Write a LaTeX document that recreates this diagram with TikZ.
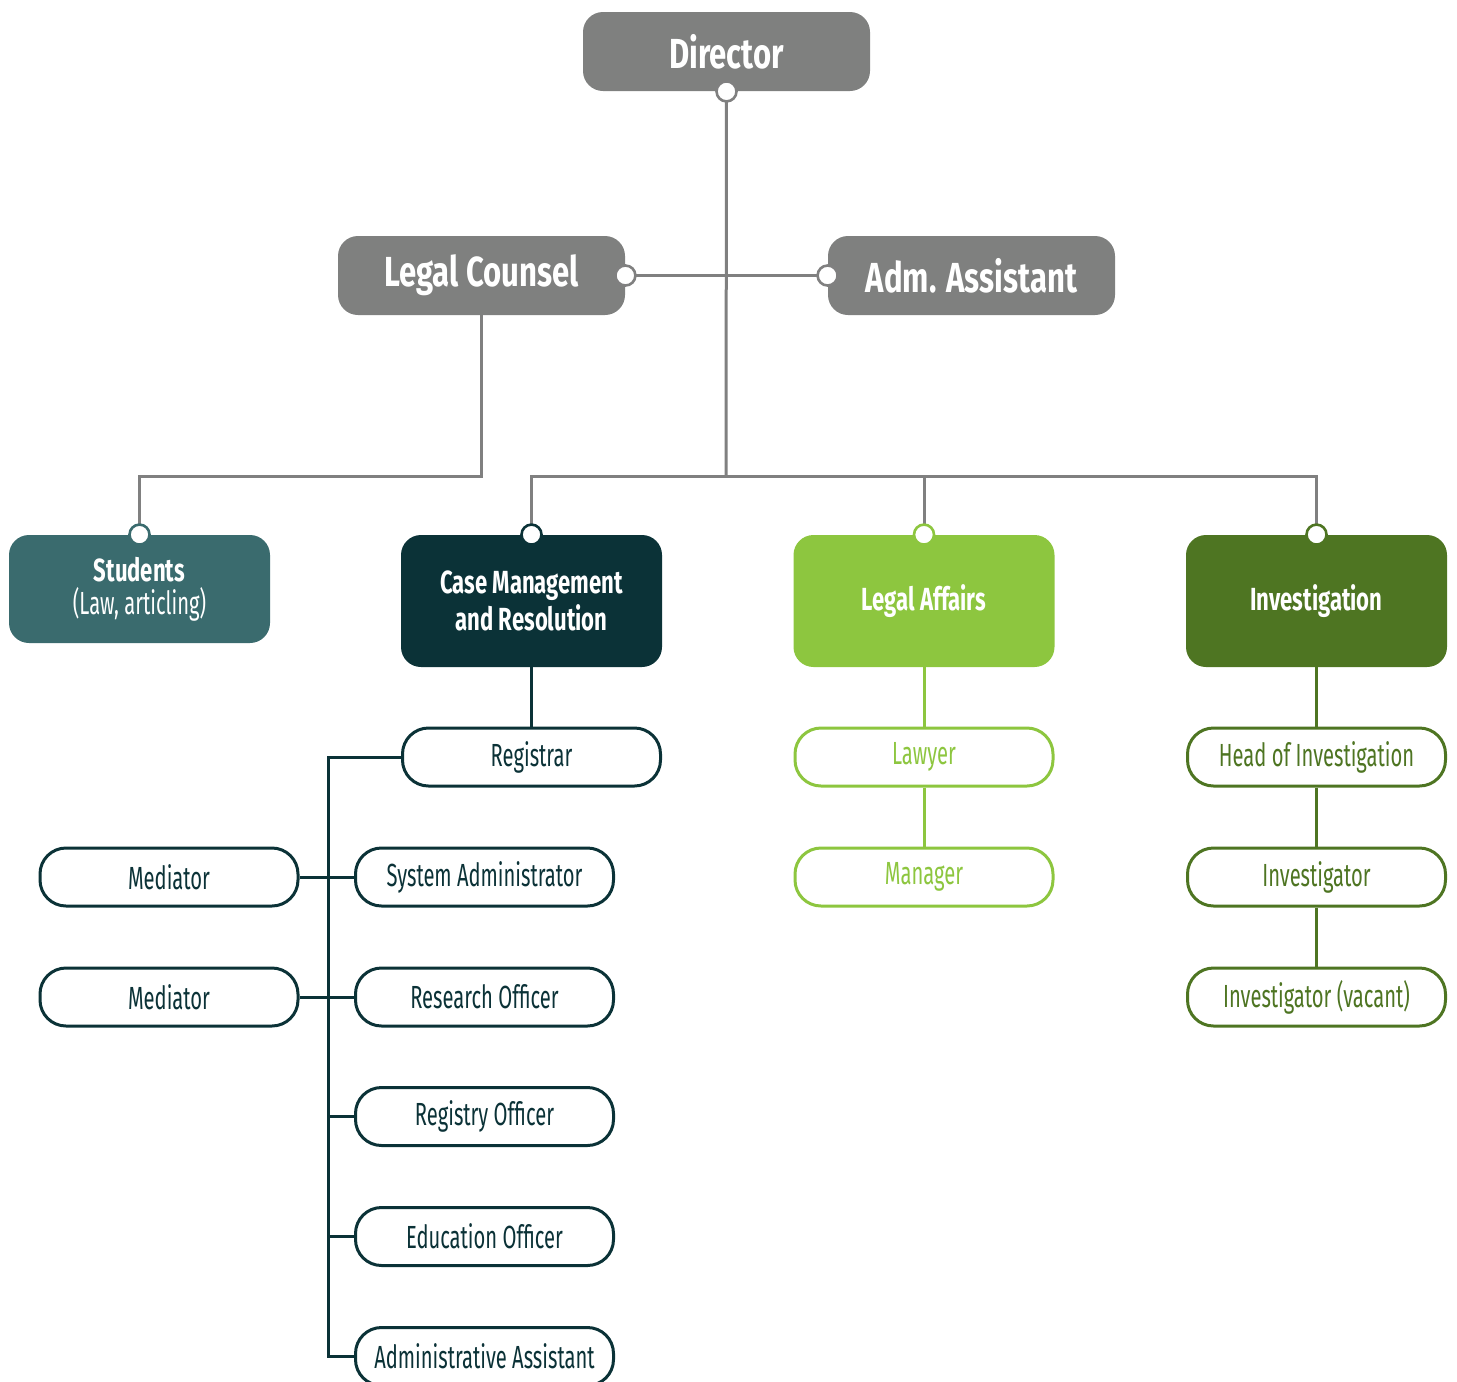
\documentclass[tikz,border=0pt]{standalone}
\usepackage{fontspec}
\setmainfont{Fira Sans}[FakeStretch=0.69]
\newfontfamily\topfont{Fira Sans}[FakeStretch=0.74]
\newfontfamily\rolefont{Fira Sans}[FakeStretch=0.63]
\usepackage{tikz}
\definecolor{topgray}{RGB}{127,128,127}
\definecolor{linegray}{RGB}{128,128,128}
\definecolor{studteal}{RGB}{58,107,110}
\definecolor{cmdark}{RGB}{11,50,55}
\definecolor{lagreen}{RGB}{141,198,63}
\definecolor{invgreen}{RGB}{78,117,34}
\tikzset{
	topbox/.style={fill=topgray,text=white,rounded corners=10pt,minimum width=143.5pt,minimum height=39.5pt,font=\fontsize{21}{24}\selectfont\topfont\bfseries},
	deptbox/.style 2 args={fill=#1,text=white,rounded corners=10pt,minimum width=130.5pt,minimum height=#2,align=center,font=\fontsize{16}{18.5}\selectfont\bfseries},
	rolebox/.style={draw=#1,text=#1,fill=white,line width=1.5pt,rounded corners=13pt,minimum width=129pt,minimum height=29pt,font=\fontsize{16}{18}\selectfont\rolefont},
	dot/.style={circle,inner sep=0pt,minimum size=10pt,fill=white,draw=#1,line width=1.3pt},
	link/.style={draw=#1,line width=1.5pt}
}
\begin{document}
\begin{tikzpicture}[x=0.5pt,y=-0.5pt]
	\useasboundingbox (0,0) rectangle (1457,1382);
	% top level
	\node [topbox] (Dir) at (726.5,51.5) {Director};
	\node [topbox] (LC) at (481.5,275.5) {Legal Counsel};
	\node [topbox] (AA) at (971.5,275.5) {Adm. Assistant};
	
	% departments
	\node [deptbox={studteal}{54pt}] (Stu) at (139.5,589) {\raisebox{-1.5pt}{Students}\\[-2pt]{\mdseries\rolefont \raisebox{-1.5pt}{(Law, articling)}}};
	\node [deptbox={cmdark}{66pt}] (CM) at (531.5,601) {Case Management\\and Resolution};
	\node [deptbox={lagreen}{66pt}] (LA) at (924,601) {Legal Affairs};
	\node [deptbox={invgreen}{66pt}] (Inv) at (1316.5,601) {Investigation};
	
	% roles
	\node [rolebox=cmdark] (Reg) at (531.5,757) {Registrar};
	\node [rolebox=cmdark] (SysAd) at (484.5,877) {System Administrator};
	\node [rolebox=cmdark] (ResOff) at (484.5,997) {Research Officer};
	\node [rolebox=cmdark] (RegOff) at (484.5,1116.5) {Registry Officer};
	\node [rolebox=cmdark] (EduOff) at (484.5,1236.5) {Education Officer};
	\node [rolebox=cmdark] (AdmAs) at (484.5,1356.5) {Administrative Assistant};
	\node [rolebox=cmdark] (MedA) at (169,877) {Mediator};
	\node [rolebox=cmdark] (MedB) at (169,997) {Mediator};
	\node [rolebox=lagreen] (Law) at (924,757) {Lawyer};
	\node [rolebox=lagreen] (Man) at (924,877) {Manager};
	\node [rolebox=invgreen] (HoI) at (1316.5,757) {Head of Investigation};
	\node [rolebox=invgreen] (Invr) at (1316.5,877) {Investigator};
	\node [rolebox=invgreen] (InvV) at (1316.5,997) {Investigator (vacant)};
	
	% connection points
	\coordinate (cDir) at (Dir.south);
	\coordinate (cLC) at (LC.east);
	\coordinate (cAA) at (AA.west);
	\coordinate (cStu) at (Stu.north);
	\coordinate (cCM) at (CM.north);
	\coordinate (cLA) at (LA.north);
	\coordinate (cInv) at (Inv.north);
	\coordinate (bar) at (726,476);
	\coordinate (busX) at (328,0);
	
	% gray lines
	\draw [link=linegray] (cDir) -- (bar);
	\draw [link=linegray] (cLC) -- (cAA);
	\draw [link=linegray] (cCM) |- (bar) -| (cInv);
	\draw [link=linegray] (cLA) -- (cLA |- bar);
	\draw [link=linegray] (LC.south) |- (cStu |- bar) -- (cStu);
	
	% department lines
	\draw [link=cmdark] (CM.south) -- (Reg.north);
	\draw [link=cmdark] (Reg.west) -- (Reg.west -| busX) |- (AdmAs.west);
	\foreach \n in {SysAd,ResOff,RegOff,EduOff}
		\draw [link=cmdark] (\n.west) -- (\n.west -| busX);
	\draw [link=cmdark] (MedA.east) -- (SysAd.west);
	\draw [link=cmdark] (MedB.east) -- (ResOff.west);
	\draw [link=lagreen] (LA.south) -- (Law.north);
	\draw [link=lagreen] (Law.south) -- (Man.north);
	\draw [link=invgreen] (Inv.south) -- (HoI.north);
	\draw [link=invgreen] (HoI.south) -- (Invr.north);
	\draw [link=invgreen] (Invr.south) -- (InvV.north);
	
	% dots
	\node [dot=linegray] (dDir) at (cDir) {};
	\node [dot=linegray] (dLC) at (cLC) {};
	\node [dot=linegray] (dAA) at (cAA) {};
	\node [dot=studteal] (dStu) at (cStu) {};
	\node [dot=cmdark] (dCM) at (cCM) {};
	\node [dot=lagreen] (dLA) at (cLA) {};
	\node [dot=invgreen] (dInv) at (cInv) {};
\end{tikzpicture}
\end{document}
